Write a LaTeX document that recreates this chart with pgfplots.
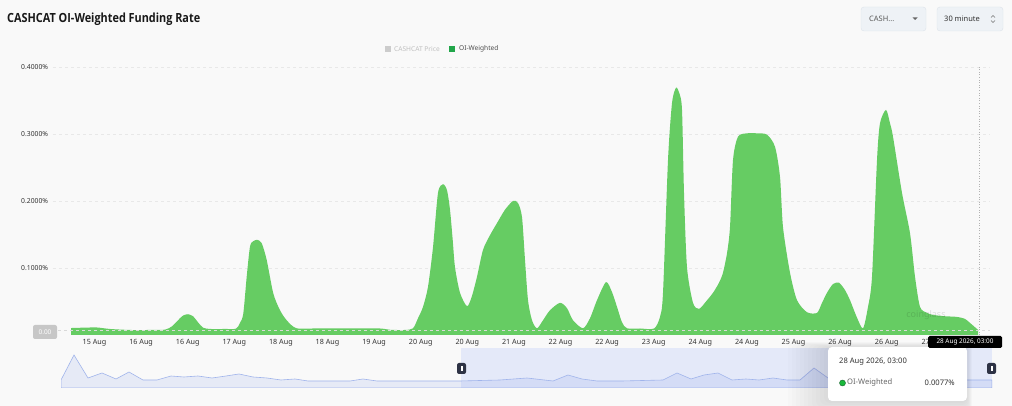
\documentclass[border=0pt]{standalone}
\usepackage{pgfplots}
\pgfplotsset{compat=1.18}
\usepackage{fontspec}
\setmainfont{Noto Sans}
\newfontfamily\titlefont{Open Sans}
\usetikzlibrary{shadows}
\definecolor{bgc}{RGB}{249,249,249}
\definecolor{areag}{RGB}{102,204,99}
\definecolor{legg}{RGB}{33,166,74}
\definecolor{gridc}{RGB}{232,232,232}
\definecolor{txt}{RGB}{51,51,51}
\definecolor{navline}{RGB}{160,180,235}
\definecolor{navsel}{RGB}{228,233,249}
\definecolor{navfill}{RGB}{100,130,230}
\definecolor{handle}{RGB}{46,51,69}
\definecolor{btnfill}{RGB}{238,242,246}
\definecolor{btndraw}{RGB}{221,227,234}
\pgfplotstableread{
x y
71 0.0104
85 0.0110
97 0.0112
110 0.0090
130 0.0075
150 0.0075
165 0.0080
172 0.0130
178 0.0220
183 0.0290
188 0.0310
193 0.0280
198 0.0190
203 0.0110
210 0.0090
225 0.0090
236 0.0095
240 0.0180
243.3 0.0320
246.7 0.0870
250 0.1320
253.3 0.1400
257.3 0.1420
261.7 0.1370
266.7 0.1120
273.3 0.0620
280 0.0370
286.7 0.0220
296.7 0.0100
320 0.0100
350 0.0100
380 0.0097
390 0.0078
405 0.0075
413 0.0100
418 0.0250
423 0.0420
428 0.0720
433 0.1310
438 0.2120
443 0.2250
447 0.2160
450 0.1870
452.7 0.1420
455 0.1010
460 0.0630
467 0.0430
471.7 0.0570
477 0.0870
483 0.1270
490 0.1490
497 0.1670
505 0.1870
513 0.2000
518 0.1970
522 0.1760
525 0.1120
528 0.0520
532 0.0220
537 0.0100
543 0.0220
550 0.0370
560 0.0480
567 0.0400
573 0.0220
583 0.0100
590 0.0250
597 0.0520
606 0.0790
612 0.0640
617 0.0420
622 0.0190
627 0.0100
640 0.0097
654 0.0097
660 0.0270
663 0.0630
668 0.2610
672 0.3460
676 0.3690
679.3 0.3610
682 0.3360
684 0.2120
687 0.1010
693 0.0480
699 0.0390
706 0.0500
713 0.0630
719 0.0780
723 0.0930
727 0.1220
730 0.1610
733 0.2610
738 0.2960
747 0.3010
757 0.3010
767 0.2990
775 0.2810
780 0.2360
783 0.1610
790 0.0930
797 0.0520
807 0.0340
817 0.0330
821.7 0.0470
827 0.0630
833 0.0760
839 0.0780
845 0.0670
850 0.0520
856.7 0.0270
863 0.0100
868 0.0420
872 0.0870
877 0.2610
880 0.3160
886 0.3360
890 0.3160
893 0.2960
902 0.2120
910 0.1520
915 0.0870
920 0.0420
927 0.0330
933 0.0300
945 0.0280
957 0.0270
965 0.0240
970 0.0180
978 0.0077
}\mainData
\pgfplotstableread{
x y
61 8
74 33
88 10
102 15
116 9
129 16
143 8
157 8
171 12
184 11
198 12
212 10
226 12
239 14
253 11
267 10
281 8
295 9
308 7
322 7
350 7
363 9
377 7
460 7
500 8
527 10
553 7
568 13
582 9
597 7
622 7
663 8
677 15
691 9
704 13
718 15
732 8
746 9
759 8
773 10
787 8
800 8
814 20
828 10
842 8
856 9
870 8
884 10
898 8
912 9
926 8
940 8
954 8
967 8
992 8
}\navData
\begin{document}
\begin{tikzpicture}[x=1pt,y=1pt]
\fill[bgc] (0,0) rectangle (1012,406);
% title
\node[anchor=west,inner sep=0pt,text=black!90] at (7,386.5) {\resizebox{193pt}{\height}{\titlefont\fontsize{12.6}{14}\selectfont\bfseries CASHCAT OI-Weighted Funding Rate}};
% controls
\draw[btndraw,fill=btnfill,rounded corners=3pt] (861,375) rectangle (926,399);
\node[anchor=west,inner sep=0pt,text=black!65] at (869,387) {\fontsize{7.5}{9}\selectfont CASH...};
\fill[black!60] (912.5,388.5) -- (917.5,388.5) -- (915,386) -- cycle;
\draw[btndraw,fill=btnfill,rounded corners=3pt] (937,375) rectangle (1003,399);
\node[anchor=west,inner sep=0pt,text=txt] at (944,387) {\fontsize{7.5}{9}\selectfont 30 minute};
\draw[black!55,line width=0.6pt] (991,388.5) -- (993,390.5) -- (995,388.5);
\draw[black!55,line width=0.6pt] (991,385.5) -- (993,383.5) -- (995,385.5);
% legend
\fill[black!20] (385,354) rectangle (391,360);
\node[anchor=west,inner sep=0pt,text=black!25] at (394,357) {\fontsize{6.6}{8}\selectfont CASHCAT Price};
\fill[legg] (449,354) rectangle (455,360);
\node[anchor=west,inner sep=0pt,text=black!70] at (459,357) {\fontsize{6.6}{8}\selectfont OI-Weighted};
% main axis
\begin{axis}[
  at={(53pt,71pt)}, anchor=south west, scale only axis,
  width=937pt, height=268pt,
  xmin=53, xmax=990, ymin=0, ymax=0.4,
  axis line style={draw=none},
  major tick length=0pt,
  ytick={0.1,0.2,0.3,0.4},
  ymajorgrids, grid style={gridc, dashed, line width=0.5pt},
  /pgf/number format/assume math mode=true,
  yticklabel={\pgfmathprintnumber[fixed,fixed zerofill,precision=4]{\tick}\%},
  yticklabel style={anchor=west, xshift=-32pt, inner sep=0pt, font=\fontsize{6.8}{8}\selectfont, text=txt},
  xtick={94.5,141.1,187.7,234.3,280.9,327.5,374.1,420.7,467.3,513.9,560.5,607.1,653.7,700.3,746.9,793.5,840.1,886.7,933.3},
  xticklabels={15 Aug,16 Aug,16 Aug,17 Aug,18 Aug,18 Aug,19 Aug,20 Aug,20 Aug,21 Aug,22 Aug,22 Aug,23 Aug,24 Aug,24 Aug,25 Aug,26 Aug,26 Aug,27 Aug},
  xticklabel style={anchor=north, inner sep=0pt, yshift=-4.5pt, font=\fontsize{7.2}{8}\selectfont, text=txt},
  clip=false,
]
\addplot[fill=areag, draw=none, smooth, tension=0.45] table[x=x,y=y] {\mainData} \closedcycle;
\node[text=black, opacity=0.12, inner sep=0pt] at (axis cs:926,0.030) {\fontsize{9}{10}\selectfont\bfseries coinglass};
\draw[white!70!gray, dashed, line width=0.5pt] (axis cs:58,0.0077) -- (axis cs:990,0.0077);
\draw[black!30, dotted, line width=0.6pt] (axis cs:979,0) -- (axis cs:979,0.4);
\end{axis}
% y crosshair label
\fill[black!22, rounded corners=2pt] (33,67) rectangle (57,81);
\node[text=white, inner sep=0pt] at (45,74) {\fontsize{6.5}{8}\selectfont 0.00};
% navigator
\fill[navsel] (461,18) rectangle (992,58);
\begin{axis}[
  at={(61pt,18pt)}, anchor=south west, scale only axis,
  width=931pt, height=40pt,
  xmin=61, xmax=992, ymin=0, ymax=40,
  hide axis,
]
\addplot[fill=navfill, fill opacity=0.12, draw=navline, line width=0.6pt] table[x=x,y=y] {\navData} \closedcycle;
\end{axis}
\fill[handle, rounded corners=2pt] (457,32) rectangle (466,43);
\draw[white, line width=0.4pt] (460.7,35) -- (460.7,40) (462.3,35) -- (462.3,40);
\fill[handle, rounded corners=2pt] (987,32) rectangle (996,43);
\draw[white, line width=0.4pt] (990.7,35) -- (990.7,40) (992.3,35) -- (992.3,40);
% tooltip soft shadow
\foreach \i in {1,...,10} {
  \fill[black, opacity=0.012, rounded corners=6pt] (828-4*\i,5-2*\i) rectangle (967+0.5*\i,59+0.5*\i);
}
\fill[white, rounded corners=4pt] (828,5) rectangle (967,59);
\node[anchor=west, inner sep=0pt, text=txt] at (839,44) {\fontsize{7.6}{9}\selectfont 28 Aug 2026, 03:00};
\filldraw[fill=legg!80!green, draw=legg!60!black, line width=0.4pt] (842.5,23) circle (3pt);
\node[anchor=west, inner sep=0pt, text=black!60] at (847,23) {\fontsize{7.6}{9}\selectfont OI-Weighted};
\node[anchor=east, inner sep=0pt, text=txt] at (955,23) {\fontsize{7.6}{9}\selectfont 0.0077\%};
% x crosshair label
\fill[black, rounded corners=1.5pt] (928,58) rectangle (1002,70);
\node[text=white, inner sep=0pt] at (965,64) {\fontsize{6.4}{8}\selectfont 28 Aug 2026, 03:00};
\pgfresetboundingbox
\path[use as bounding box] (0,0) rectangle (1012,406);
\end{tikzpicture}
\end{document}
